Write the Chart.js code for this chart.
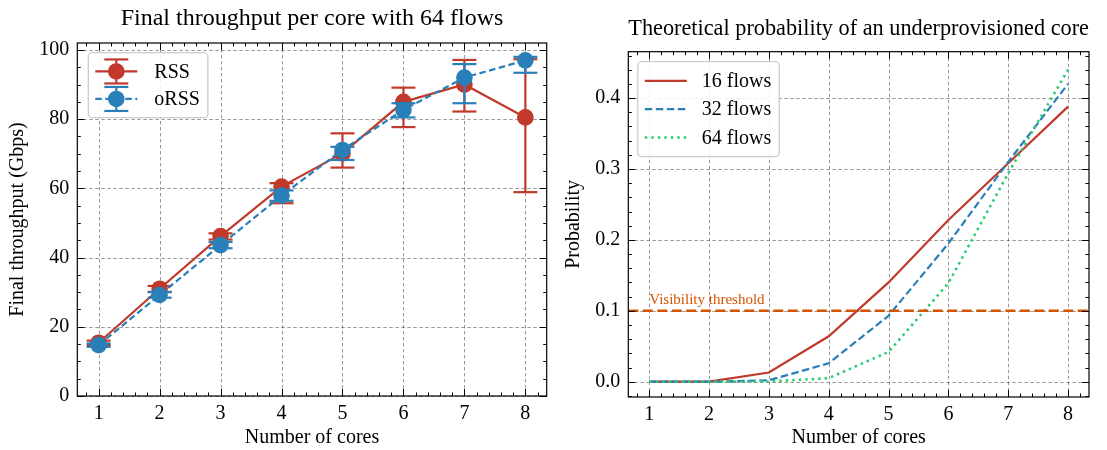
<!DOCTYPE html>
<html>
<head>
<meta charset="utf-8">
<title>Throughput per core</title>
<script src="https://cdn.jsdelivr.net/npm/chart.js@4.4.1/dist/chart.umd.min.js"></script>
<style>
  html, body { margin: 0; padding: 0; background: #fff; }
  #wrap { position: relative; width: 1107px; height: 450px; overflow: hidden; }
  .panel { position: absolute; top: 0; height: 450px; }
  #left-panel { left: 0; width: 560px; }
  #right-panel { left: 560px; width: 547px; }
</style>
</head>
<body>
<div id="wrap">
  <div class="panel" id="left-panel"><canvas id="throughputChart"></canvas></div>
  <div class="panel" id="right-panel"><canvas id="probChart"></canvas></div>
</div>
<script>
// data
var cores = [1, 2, 3, 4, 5, 6, 7, 8];

var rssMean = [15.4, 31.0, 46.2, 60.5, 70.1, 85.0, 90.0, 80.5];
var rssLow  = [14.7, 30.1, 45.2, 55.7, 66.0, 77.7, 82.2, 58.9];
var rssHigh = [16.0, 31.8, 47.0, 61.5, 75.9, 89.1, 97.1, 97.3];

var orssMean = [14.7, 29.2, 43.6, 57.9, 71.1, 82.7, 92.0, 97.0];
var orssLow  = [14.2, 28.4, 42.7, 56.4, 68.2, 80.5, 84.6, 93.4];
var orssHigh = [15.2, 30.0, 44.5, 59.4, 72.0, 84.6, 95.9, 98.0];

var flows16 = [0, 0, 0.013, 0.064, 0.140, 0.228, 0.308, 0.388];
var flows32 = [0, 0, 0.002, 0.026, 0.093, 0.195, 0.310, 0.420];
var flows64 = [0, 0, 0.0003, 0.005, 0.042, 0.139, 0.294, 0.440];
var threshold = 0.1;

var leftTitle = "Final throughput per core with 64 flows";
var rightTitle = "Theoretical probability of an underprovisioned core";

var RED = "#c0392b";
var BLUE = "#2980b9";
var GREEN = "#2ecc71";
var ORANGE = "#d35400";
var SERIF = "'Liberation Serif', 'DejaVu Serif', 'Times New Roman', serif";

Chart.defaults.font.family = SERIF;
Chart.defaults.color = "#000";

function points(ys) {
    return cores.map(function (c, i) { return { x: c, y: ys[i] }; });
}

function line(ctx, x1, y1, x2, y2) {
    ctx.beginPath();
    ctx.moveTo(x1, y1);
    ctx.lineTo(x2, y2);
    ctx.stroke();
}

// matplotlib-like box: dashed grid, frame, inward ticks on all sides
var mplAxes = {
    id: "mplAxes",
    beforeDatasetsDraw: function (chart) {
        var ctx = chart.ctx, a = chart.chartArea;
        var xs = chart.scales.x, ys = chart.scales.y;
        ctx.save();
        ctx.strokeStyle = "rgba(0,0,0,0.5)";
        ctx.lineWidth = 0.8;
        ctx.setLineDash([3.5, 2.5]);
        xs.ticks.forEach(function (t) {
            var px = Math.round(xs.getPixelForValue(t.value)) + 0.5;
            line(ctx, px, a.top, px, a.bottom);
        });
        ys.ticks.forEach(function (t) {
            var py = Math.round(ys.getPixelForValue(t.value)) + 0.5;
            line(ctx, a.left, py, a.right, py);
        });
        ctx.restore();
    },
    afterDatasetsDraw: function (chart, args, opts) {
        var ctx = chart.ctx, a = chart.chartArea;
        var xs = chart.scales.x, ys = chart.scales.y;
        ctx.save();
        ctx.strokeStyle = "#000";
        ctx.lineWidth = 1;
        ctx.setLineDash([]);
        // minor ticks
        var k, px, py;
        for (k = Math.ceil(xs.min / opts.xMinor); k * opts.xMinor <= xs.max; k++) {
            px = Math.round(xs.getPixelForValue(k * opts.xMinor)) + 0.5;
            line(ctx, px, a.bottom, px, a.bottom - 3.5);
            line(ctx, px, a.top, px, a.top + 3.5);
        }
        for (k = Math.ceil(ys.min / opts.yMinor); k * opts.yMinor <= ys.max + 1e-9; k++) {
            py = Math.round(ys.getPixelForValue(k * opts.yMinor)) + 0.5;
            line(ctx, a.left, py, a.left + 3.5, py);
            line(ctx, a.right, py, a.right - 3.5, py);
        }
        // major ticks
        xs.ticks.forEach(function (t) {
            px = Math.round(xs.getPixelForValue(t.value)) + 0.5;
            line(ctx, px, a.bottom, px, a.bottom - 7);
            line(ctx, px, a.top, px, a.top + 7);
        });
        ys.ticks.forEach(function (t) {
            py = Math.round(ys.getPixelForValue(t.value)) + 0.5;
            line(ctx, a.left, py, a.left + 7, py);
            line(ctx, a.right, py, a.right - 7, py);
        });
        ctx.lineWidth = 1.2;
        ctx.strokeRect(a.left, a.top, a.right - a.left, a.bottom - a.top);
        ctx.restore();
    }
};

// vertical error bars with caps, drawn just under their own series
var errorBars = {
    id: "errorBars",
    beforeDatasetDraw: function (chart, args) {
        var ds = chart.data.datasets[args.index];
        if (!ds.errLow) return;
        var ctx = chart.ctx, ys = chart.scales.y;
        ctx.save();
        ctx.strokeStyle = ds.borderColor;
        ctx.lineWidth = 2.2;
        ctx.setLineDash([]);
        args.meta.data.forEach(function (pt, i) {
            var yl = ys.getPixelForValue(ds.errLow[i]);
            var yh = ys.getPixelForValue(ds.errHigh[i]);
            line(ctx, pt.x, yl, pt.x, yh);
            line(ctx, pt.x - 12, yl, pt.x + 12, yl);
            line(ctx, pt.x - 12, yh, pt.x + 12, yh);
        });
        ctx.restore();
    }
};

// framed legend inside the plot, top-left
var boxLegend = {
    id: "boxLegend",
    afterDraw: function (chart, args, opts) {
        var ctx = chart.ctx, a = chart.chartArea;
        var items = chart.data.datasets.filter(function (d) { return d.inLegend; });
        var x0 = a.left + opts.dx, y0 = a.top + opts.dy;
        var rowH = opts.rowH;
        ctx.save();
        ctx.font = "20px " + SERIF;
        var tw = 0;
        items.forEach(function (d) { tw = Math.max(tw, ctx.measureText(d.label).width); });
        var w = opts.textX + tw + 8, h = items.length * rowH + 10;
        ctx.beginPath();
        ctx.roundRect(x0, y0, w, h, 4);
        ctx.fillStyle = "rgba(255,255,255,0.85)";
        ctx.fill();
        ctx.strokeStyle = "#cccccc";
        ctx.lineWidth = 1.3;
        ctx.stroke();
        items.forEach(function (d, i) {
            var cy = y0 + 5 + rowH * (i + 0.5);
            var sx = x0 + 7, ex = x0 + 49, mx = (sx + ex) / 2;
            ctx.strokeStyle = d.borderColor;
            ctx.lineWidth = d.borderWidth;
            ctx.setLineDash(d.borderDash || []);
            line(ctx, sx, cy, ex, cy);
            ctx.setLineDash([]);
            if (d.errLow) {
                ctx.lineWidth = 2.2;
                line(ctx, mx, cy - 12, mx, cy + 12);
                line(ctx, mx - 12, cy - 12, mx + 12, cy - 12);
                line(ctx, mx - 12, cy + 12, mx + 12, cy + 12);
            }
            if (d.pointRadius) {
                ctx.fillStyle = d.borderColor;
                ctx.beginPath();
                ctx.arc(mx, cy, d.pointRadius, 0, Math.PI * 2);
                ctx.fill();
            }
            ctx.fillStyle = "#000";
            ctx.textBaseline = "middle";
            ctx.textAlign = "left";
            ctx.fillText(d.label, x0 + opts.textX, cy + 1);
        });
        ctx.restore();
    }
};

// text over the threshold line
var thresholdLabel = {
    id: "thresholdLabel",
    afterDatasetsDraw: function (chart, args, opts) {
        if (!opts.text) return;
        var ctx = chart.ctx;
        ctx.save();
        ctx.font = "15px " + SERIF;
        ctx.fillStyle = ORANGE;
        ctx.textBaseline = "alphabetic";
        ctx.fillText(opts.text, chart.scales.x.getPixelForValue(1), chart.scales.y.getPixelForValue(threshold) - 7);
        ctx.restore();
    }
};

function baseScales(xAxisHeight, yAxisWidth, yTitle, yTitlePad, yOpts) {
    return {
        x: {
            type: "linear", min: 0.65, max: 8.35,
            afterFit: function (s) { s.height = xAxisHeight; },
            ticks: { stepSize: 1, includeBounds: false, padding: 6, maxRotation: 0, autoSkip: false, color: "#000", font: { size: 20 } },
            grid: { display: false, drawTicks: false },
            border: { display: false },
            title: { display: true, text: "Number of cores", color: "#000", font: { size: 20 }, padding: { top: 0, bottom: 0 } }
        },
        y: Object.assign({
            type: "linear",
            afterFit: function (s) { s.width = yAxisWidth; },
            grid: { display: false, drawTicks: false },
            border: { display: false },
            title: { display: true, text: yTitle, color: "#000", font: { size: 20 }, padding: { top: yTitlePad, bottom: 0 } }
        }, yOpts)
    };
}

new Chart(document.getElementById("throughputChart"), {
    type: "line",
    data: {
        datasets: [{
            label: "RSS",
            data: points(rssMean),
            errLow: rssLow, errHigh: rssHigh,
            borderColor: RED, backgroundColor: RED,
            pointBackgroundColor: RED, pointBorderColor: RED,
            borderWidth: 2.2, pointRadius: 8.3, pointBorderWidth: 0, pointHoverRadius: 8.3,
            order: 1, inLegend: true
        }, {
            label: "oRSS",
            data: points(orssMean),
            errLow: orssLow, errHigh: orssHigh,
            borderColor: BLUE, backgroundColor: BLUE,
            pointBackgroundColor: BLUE, pointBorderColor: BLUE,
            borderWidth: 2.2, borderDash: [6.5, 3.5], pointRadius: 8.3, pointBorderWidth: 0, pointHoverRadius: 8.3,
            order: 0, inLegend: true
        }]
    },
    options: {
        responsive: true, maintainAspectRatio: false, animation: false, events: [],
        layout: { padding: { left: 0, right: 13.3, top: 0, bottom: 0 } },
        scales: baseScales(54, 77.3, "Final throughput (Gbps)", 6, {
            min: 0, max: 102,
            ticks: { stepSize: 20, includeBounds: false, padding: 8, color: "#000", font: { size: 20 } }
        }),
        plugins: {
            legend: { display: false },
            tooltip: { enabled: false },
            title: {
                display: true, text: leftTitle, fullSize: false, color: "#000",
                font: { size: 24, weight: "normal" }, padding: { top: 4.6, bottom: 9.6 }
            },
            mplAxes: { xMinor: 0.2, yMinor: 5 },
            boxLegend: { dx: 11, dy: 9.7, rowH: 27.5, textX: 66 },
            thresholdLabel: {}
        }
    },
    plugins: [mplAxes, errorBars, boxLegend, thresholdLabel]
});

new Chart(document.getElementById("probChart"), {
    type: "line",
    data: {
        datasets: [{
            label: "16 flows", data: points(flows16),
            borderColor: RED, borderWidth: 2.2, pointRadius: 0, order: 3, inLegend: true
        }, {
            label: "32 flows", data: points(flows32),
            borderColor: BLUE, borderWidth: 2.2, borderDash: [7.5, 3.5], pointRadius: 0, order: 2, inLegend: true
        }, {
            label: "64 flows", data: points(flows64),
            borderColor: GREEN, borderWidth: 2.6, borderDash: [2.5, 4], pointRadius: 0, order: 1, inLegend: true
        }, {
            label: "threshold", data: [{ x: 0.65, y: threshold }, { x: 8.35, y: threshold }],
            borderColor: ORANGE, borderWidth: 2.6, borderDash: [10, 4.5], pointRadius: 0, order: 0
        }]
    },
    options: {
        responsive: true, maintainAspectRatio: false, animation: false, events: [],
        layout: { padding: { left: 0, right: 18, top: 0, bottom: 0 } },
        scales: baseScales(53, 68.3, "Probability", 1.5, {
            min: -0.0216, max: 0.4654,
            ticks: {
                stepSize: 0.1, includeBounds: false, padding: 8, color: "#000", font: { size: 20 },
                callback: function (v) { return v.toFixed(1); }
            }
        }),
        plugins: {
            legend: { display: false },
            tooltip: { enabled: false },
            title: {
                display: true, text: rightTitle, fullSize: false, color: "#000",
                font: { size: 24, weight: "normal" }, padding: { top: 13.9, bottom: 9.0 }
            },
            mplAxes: { xMinor: 0.2, yMinor: 0.02 },
            boxLegend: { dx: 9.5, dy: 10, rowH: 28.3, textX: 64 },
            thresholdLabel: { text: "Visibility threshold" }
        }
    },
    plugins: [mplAxes, errorBars, boxLegend, thresholdLabel]
});
</script>
</body>
</html>
